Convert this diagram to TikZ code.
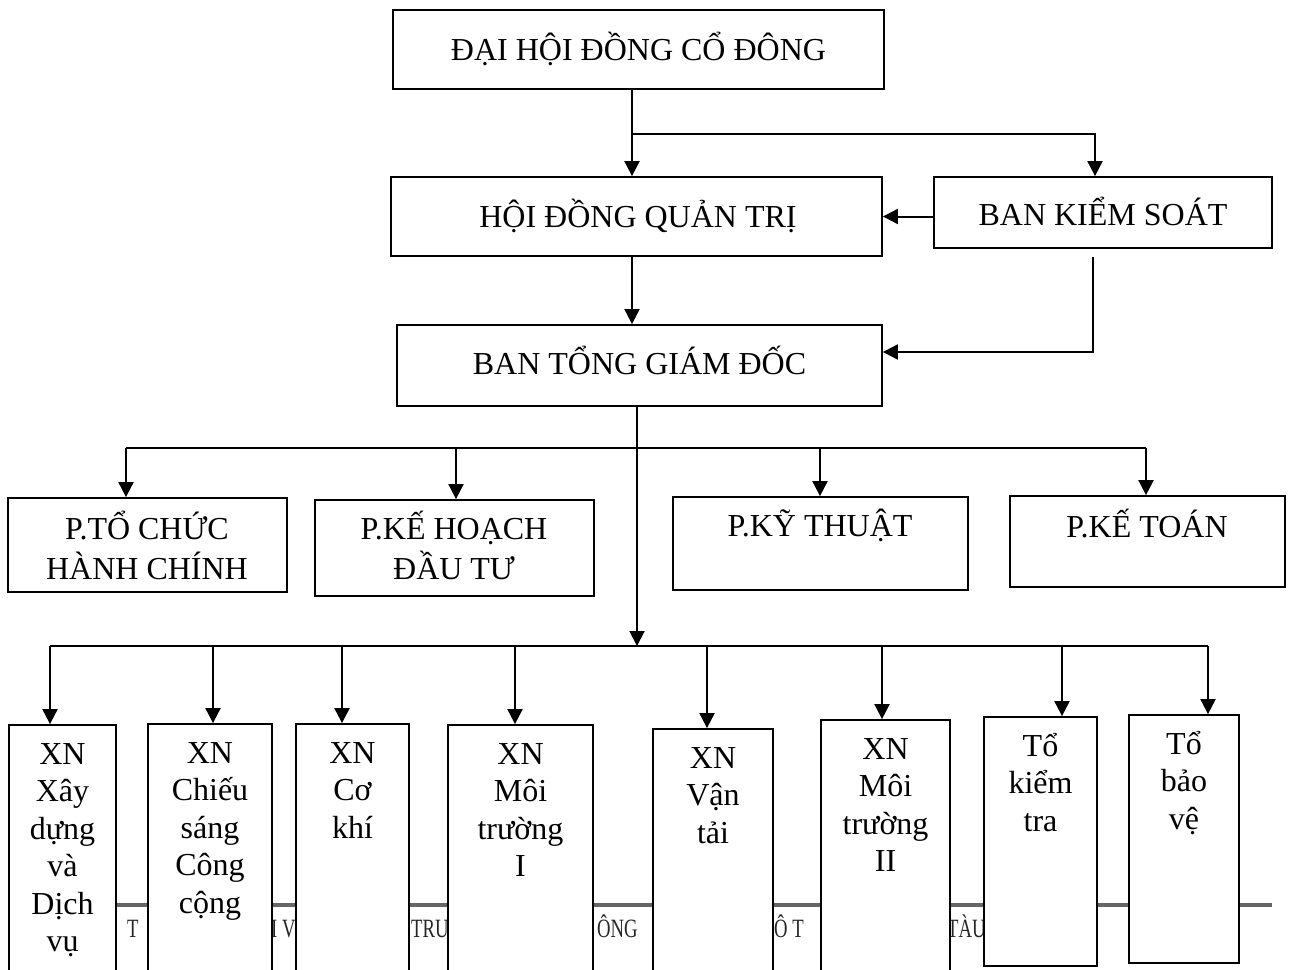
\documentclass[tikz,border=0pt]{standalone}
\usepackage{fontspec}
\setmainfont{Liberation Serif}
\usetikzlibrary{fit,arrows.meta}
\newcommand\boxtext[4]{\node[lbl] (#1) at (#2,#3-26.25) {\strut #4};}
\newcommand\mkbox[5]{\node[box, fit={(#2,#3) (#4,#5)}] (#1) {};}
\newcommand\ftxt[1]{\scalebox{0.85}[1.2]{#1}}
\begin{document}
\begin{tikzpicture}[x=1pt,y=-1pt,
  box/.style={draw, line width=1.8pt, fill=white, inner sep=0pt},
  lbl/.style={inner sep=0pt, anchor=north, align=center, font=\fontsize{32}{37.5}\selectfont},
  conn/.style={line width=2pt},
  arr/.style={line width=2pt, -{Triangle[length=15pt,width=15pt]}},
  foot/.style={inner sep=0pt, anchor=base west, font=\fontsize{22}{26}\selectfont, text=black!85},
  footline/.style={line width=4pt, draw=black!60}
]
\useasboundingbox (0,0) rectangle (1295,969);
\clip (0,0) rectangle (1295,969);

% footer remnants (behind boxes)
\coordinate (fl1) at (9,905);
\coordinate (fl2) at (1272,905);
\draw[footline] (fl1) -- (fl2);
\node[foot] (f1) at (127,937) {\ftxt{T}};
\node[foot] (f2) at (271,937) {\ftxt{I V}};
\node[foot] (f3) at (411,937) {\ftxt{TRU}};
\node[foot] (f4) at (597,937) {\ftxt{ÔNG}};
\node[foot] (f5) at (774,937) {\ftxt{Ô T}};
\node[foot] (f6) at (947,937) {\ftxt{TÀU}};

% top level boxes
\mkbox{dh}{393}{10}{884}{89}
\mkbox{hd}{391}{177}{882}{256}
\mkbox{bks}{934}{177}{1272}{248}
\mkbox{btgd}{397}{325}{882}{406}

% departments
\mkbox{ptc}{8}{498}{287}{592}
\mkbox{pkh}{315}{500}{594}{596}
\mkbox{pkt}{673}{497}{968}{590}
\mkbox{pkto}{1010}{496}{1285}{587}

% units
\mkbox{x1}{9}{725}{116}{990}
\mkbox{x2}{148}{724}{272}{990}
\mkbox{x3}{296}{724}{409}{990}
\mkbox{x4}{448}{725}{593}{990}
\mkbox{x5}{653}{729}{773}{990}
\mkbox{x6}{821}{720}{950}{990}
\mkbox{tkt}{984}{717}{1097}{966}
\mkbox{tbv}{1129}{715}{1239}{963}

% texts
\boxtext{dh-t}{638.5}{58}{ĐẠI HỘI ĐỒNG CỔ ĐÔNG}
\boxtext{hd-t}{638}{225}{HỘI ĐỒNG QUẢN TRỊ}
\boxtext{bks-t}{1103}{223}{BAN KIỂM SOÁT}
\boxtext{btgd-t}{639.5}{372}{BAN TỔNG GIÁM ĐỐC}
\boxtext{ptc-t}{147}{537}{P.TỔ CHỨC\\HÀNH CHÍNH}
\boxtext{pkh-t}{454}{537}{P.KẾ HOẠCH\\ĐẦU TƯ}
\boxtext{pkt-t}{820}{535}{P.KỸ THUẬT}
\boxtext{pkto-t}{1147}{535}{P.KẾ TOÁN}
\boxtext{x1-t}{62.5}{764}{XN\\Xây\\dựng\\và\\Dịch\\vụ}
\boxtext{x2-t}{210}{763}{XN\\Chiếu\\sáng\\Công\\cộng}
\boxtext{x3-t}{352.5}{763}{XN\\Cơ\\khí}
\boxtext{x4-t}{520.5}{764}{XN\\Môi\\trường\\I}
\boxtext{x5-t}{713}{768}{XN\\Vận\\tải}
\boxtext{x6-t}{885.5}{759}{XN\\Môi\\trường\\II}
\boxtext{tkt-t}{1040.5}{756}{Tổ\\kiểm\\tra}
\boxtext{tbv-t}{1184}{754}{Tổ\\bảo\\vệ}

% connectors, top
\coordinate (j1) at (632,134);
\coordinate (k1) at (1095,134);
\coordinate (k2) at (1093,352);
\draw[arr] (dh.south -| j1) -- (hd.north -| j1);
\draw[arr] (j1) -| (bks.north -| k1);
\draw[arr] (bks.west |- hd.east) -- (hd.east);
\draw[arr] (hd.south -| j1) -- (btgd.north -| j1);
\draw[arr, shorten <=8pt] (bks.south -| k2) |- (btgd.east |- k2);

% trunk
\coordinate (lb) at (637,646);
\draw[arr] (btgd.south -| lb) -- (lb);

% upper bus
\coordinate (a1) at (126,448);
\coordinate (a2) at (456,448);
\coordinate (a3) at (820,448);
\coordinate (a4) at (1146,448);
\draw[conn] (a1) -- (a4);
\draw[arr] (a1) -- (a1 |- ptc.north);
\draw[arr] (a2) -- (a2 |- pkh.north);
\draw[arr] (a3) -- (a3 |- pkt.north);
\draw[arr] (a4) -- (a4 |- pkto.north);

% lower bus
\coordinate (b1) at (50,646);
\coordinate (b2) at (213,646);
\coordinate (b3) at (342,646);
\coordinate (b4) at (515,646);
\coordinate (b5) at (707,646);
\coordinate (b6) at (882,646);
\coordinate (b7) at (1062,646);
\coordinate (b8) at (1208,646);
\draw[conn] (b1) -- (b8);
\draw[arr] (b1) -- (b1 |- x1.north);
\draw[arr] (b2) -- (b2 |- x2.north);
\draw[arr] (b3) -- (b3 |- x3.north);
\draw[arr] (b4) -- (b4 |- x4.north);
\draw[arr] (b5) -- (b5 |- x5.north);
\draw[arr] (b6) -- (b6 |- x6.north);
\draw[arr] (b7) -- (b7 |- tkt.north);
\draw[arr] (b8) -- (b8 |- tbv.north);
\end{tikzpicture}
\end{document}
